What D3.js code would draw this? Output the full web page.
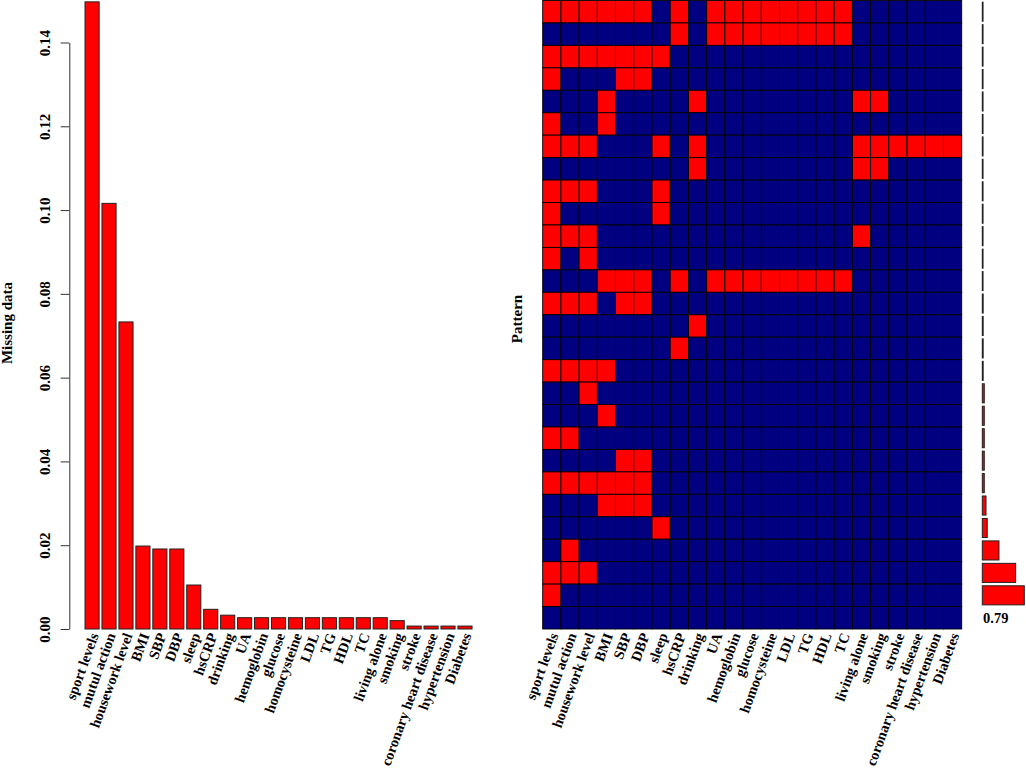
<!DOCTYPE html>
<html>
<head>
<meta charset="utf-8">
<script src="https://cdn.jsdelivr.net/npm/d3@7"></script>
<style>
  html, body { margin: 0; padding: 0; background: #fff; }
  svg { display: block; }
  text { font-family: "Liberation Serif", "Times New Roman", serif; font-weight: bold; fill: #000; }
</style>
</head>
<body>
<svg id="chart" width="1026" height="771"></svg>
<script>
// ---------- DATA ----------
const variables = ["sport levels","mutul action","housework level","BMI","SBP","DBP","sleep","hsCRP","drinking","UA","hemoglobin","glucose","homocysteine","LDL","TG","HDL","TC","living alone","smoking","stroke","coronary heart disease","hypertension","Diabetes"];

// proportion of missing values per variable (left barplot)
const missingProp = [0.1497, 0.1016, 0.0733, 0.0198, 0.0191, 0.0191, 0.0105, 0.0047, 0.0033,
  0.0027, 0.0027, 0.0027, 0.0027, 0.0027, 0.0027, 0.0027, 0.0027, 0.0027,
  0.0020, 0.0007, 0.0007, 0.0007, 0.0007];

const yTicks = [0.00, 0.02, 0.04, 0.06, 0.08, 0.10, 0.12, 0.14];

// missingness patterns (1 = missing), top row first
const patterns = [
  "11111101011111111000000",
  "00000001011111111000000",
  "11111110000000000000000",
  "10001100000000000000000",
  "00010000100000000110000",
  "10010000000000000000000",
  "11100010100000000111111",
  "00000000100000000110000",
  "11100010000000000000000",
  "10000010000000000000000",
  "11100000000000000100000",
  "10100000000000000000000",
  "00011101011111111000000",
  "11101100000000000000000",
  "00000000100000000000000",
  "00000001000000000000000",
  "11110000000000000000000",
  "00100000000000000000000",
  "00010000000000000000000",
  "11000000000000000000000",
  "00001100000000000000000",
  "11111100000000000000000",
  "00011100000000000000000",
  "00000010000000000000000",
  "01000000000000000000000",
  "11100000000000000000000",
  "10000000000000000000000",
  "00000000000000000000000"
];

// proportion of each pattern (right-hand bars)
const patternProp = [0.0012, 0.0012, 0.0012, 0.0012, 0.0012, 0.0012, 0.0012, 0.0012, 0.0012, 0.0012,
  0.0012, 0.0012, 0.0012, 0.0014, 0.0014, 0.0014, 0.0014, 0.0032, 0.0032, 0.0032,
  0.0032, 0.0032, 0.006, 0.008, 0.027, 0.054, 0.068, 0.79];
const completeLabel = "0.79";

// ---------- DRAW ----------
const svg = d3.select("#chart");
svg.append("rect").attr("width", 1026).attr("height", 771).attr("fill", "#fff");

const RED = "#ff0000", NAVY = "#000080";
const baseY = 629;
const FS = "14.5px";

// ----- Left barplot -----
const y = d3.scaleLinear().domain([0, 0.14]).range([baseY, 42.5]);
const xL = d3.scaleBand().domain(variables).range([83.6, 83.6 + 23 * 16.95]).paddingInner(1/6).paddingOuter(1/12);

const left = svg.append("g");
left.selectAll("rect.bar").data(variables).join("rect")
  .attr("class", "bar")
  .attr("x", d => xL(d))
  .attr("width", xL.bandwidth())
  .attr("y", (d, i) => y(missingProp[i]))
  .attr("height", (d, i) => baseY - y(missingProp[i]))
  .attr("fill", RED)
  .attr("stroke", "#222")
  .attr("stroke-width", 1);

const yAxis = left.append("g").attr("transform", "translate(69.3,0)")
  .call(d3.axisLeft(y).tickValues(yTicks).tickFormat(d3.format(".2f")).tickSize(8.6).tickSizeOuter(0));
yAxis.select(".domain").attr("stroke", "#333");
yAxis.selectAll(".tick line").attr("stroke", "#333");
yAxis.selectAll(".tick text")
  .attr("transform", "rotate(-90)")
  .attr("x", 0).attr("y", -19).attr("dy", 0)
  .attr("text-anchor", "middle")
  .style("font-family", "'Liberation Serif', 'Times New Roman', serif")
  .style("font-weight", "bold")
  .style("font-size", "15px");

left.append("text")
  .attr("transform", "translate(12,323) rotate(-90)")
  .attr("text-anchor", "middle")
  .style("font-size", "15px")
  .text("Missing data");

function xLabels(g, scale) {
  g.selectAll("text.xl").data(variables).join("text")
    .attr("class", "xl")
    .attr("transform", d => `translate(${scale(d) + scale.bandwidth() / 2 + 2},${baseY + 4.5}) rotate(-70)`)
    .attr("text-anchor", "end")
    .attr("dy", "0.35em")
    .style("font-size", FS)
    .text(d => d);
}
xLabels(left, xL);

// ----- Right: pattern grid -----
const xR = d3.scaleBand().domain(variables).range([542.7, 961.7]);
const rowIds = d3.range(patterns.length);
const yR = d3.scaleBand().domain(rowIds).range([0.5, baseY]);

const grid = svg.append("g");
rowIds.forEach(r => {
  grid.selectAll(null).data(variables).join("rect")
    .attr("x", d => xR(d))
    .attr("y", yR(r))
    .attr("width", xR.bandwidth())
    .attr("height", yR.bandwidth())
    .attr("fill", (d, j) => patterns[r].padEnd(23, "0")[j] === "1" ? RED : NAVY)
    .attr("stroke", "#000")
    .attr("stroke-width", 0.9);
});

grid.append("text")
  .attr("transform", "translate(521.5,319) rotate(-90)")
  .attr("text-anchor", "middle")
  .style("font-size", "15px")
  .text("Pattern");

xLabels(grid, xR);

// ----- Right: pattern proportion bars -----
const yB = d3.scaleBand().domain(rowIds).range([0.5, baseY]).paddingInner(0.15).paddingOuter(0.075);
const xB = d3.scaleLinear().domain([0, 0.068]).range([982.3, 1024.3]);
const last = patterns.length - 1;
svg.append("g").selectAll("rect").data(rowIds.filter(r => r !== last)).join("rect")
  .attr("x", xB(0))
  .attr("y", r => yB(r))
  .attr("width", r => xB(patternProp[r]) - xB(0))
  .attr("height", yB.bandwidth())
  .attr("fill", RED)
  .attr("stroke", "#222")
  .attr("stroke-width", 1);

svg.append("text")
  .attr("x", 983)
  .attr("y", yR(last) + yR.bandwidth() / 2 + 5)
  .style("font-size", "14.5px")
  .text(completeLabel);
</script>
</body>
</html>
